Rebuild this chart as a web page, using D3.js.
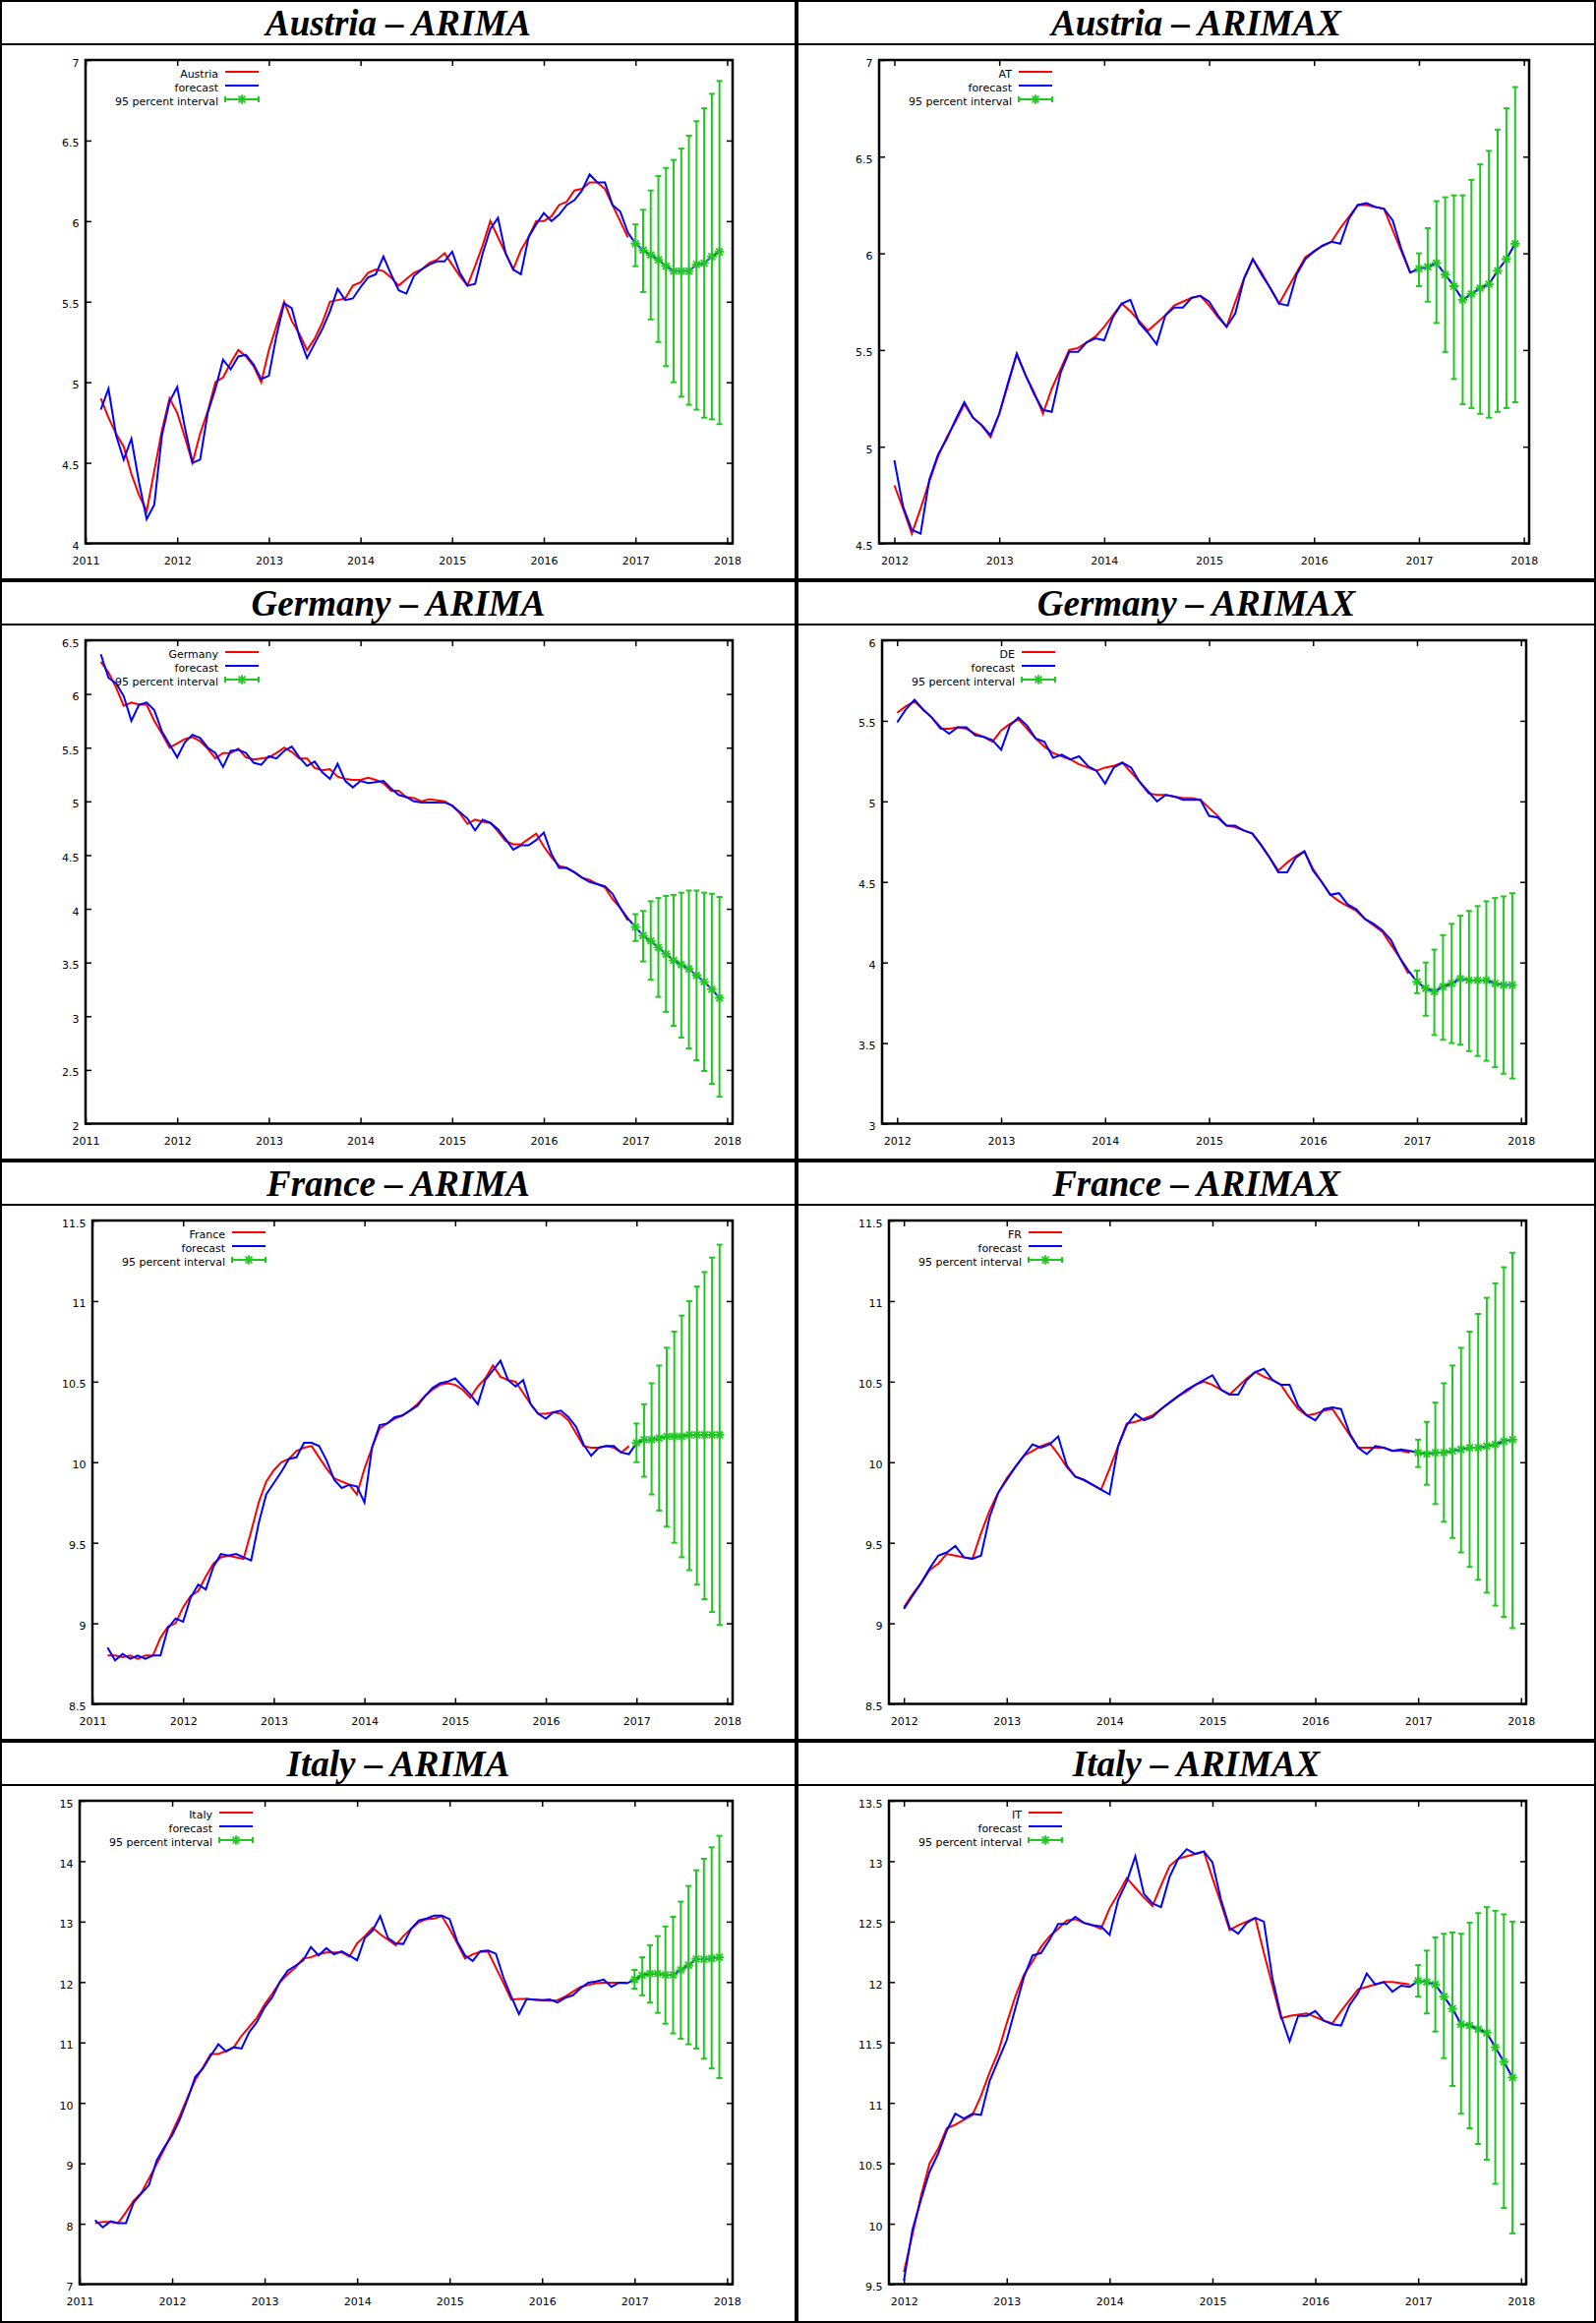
<!DOCTYPE html>
<html><head><meta charset="utf-8">
<script src="https://cdn.jsdelivr.net/npm/d3@7"></script>
<style>
body{margin:0;background:#fff}
.tk text,.lg text{font-family:"DejaVu Sans",sans-serif;font-size:11px;fill:#000}
.ttl{font-family:"Liberation Serif","Times New Roman",serif;font-weight:bold;font-style:italic;font-size:37px}
</style></head>
<body><svg id="c" width="1623" height="2362"></svg>
<script>
// ---------- DATA ----------
const panelTitles = ["Austria – ARIMA","Austria – ARIMAX","Germany – ARIMA","Germany – ARIMAX","France – ARIMA","France – ARIMAX","Italy – ARIMA","Italy – ARIMAX"];
const seriesNames = ["Austria","AT","Germany","DE","France","FR","Italy","IT"];
const forecastLabel = "forecast";
const intervalLabel = "95 percent interval";
const arimaStart = 2011 + 2/12;   // March 2011
const arimaxStart = 2012;         // January 2012
const forecastStart = 2017;       // January 2017
const xTicksArima = [2011,2012,2013,2014,2015,2016,2017,2018];
const xTicksArimax = [2012,2013,2014,2015,2016,2017,2018];
const yTicksAustriaArima = [4,4.5,5,5.5,6,6.5,7];
const yTicksAustriaArimax = [4.5,5,5.5,6,6.5,7];
const yTicksGermanyArima = [2,2.5,3,3.5,4,4.5,5,5.5,6,6.5];
const yTicksGermanyArimax = [3,3.5,4,4.5,5,5.5,6];
const yTicksFrance = [8.5,9,9.5,10,10.5,11,11.5];
const yTicksItalyArima = [7,8,9,10,11,12,13,14,15];
const yTicksItalyArimax = [9.5,10,10.5,11,11.5,12,12.5,13,13.5];

const austriaArimaActual = [4.90,4.78,4.68,4.60,4.43,4.30,4.20,4.45,4.70,4.90,
 4.81,4.66,4.50,4.68,4.82,5.00,5.03,5.12,5.20,5.16,5.10,5.00,
 5.20,5.35,5.50,5.38,5.30,5.20,5.27,5.37,5.50,5.51,5.52,5.60,
 5.62,5.68,5.70,5.69,5.65,5.60,5.64,5.68,5.70,5.74,5.76,5.80,
 5.73,5.66,5.60,5.72,5.85,6.00,5.90,5.80,5.70,5.82,5.90,6.00,
 6.00,6.03,6.10,6.12,6.19,6.20,6.24,6.24,6.20,6.10,6.00,5.90];
const austriaArimaForecast = [4.83,4.96,4.67,4.52,4.65,4.38,4.15,4.24,4.67,4.88,
 4.97,4.72,4.50,4.52,4.81,4.96,5.14,5.08,5.16,5.17,5.11,5.02,
 5.04,5.29,5.49,5.46,5.28,5.15,5.24,5.33,5.44,5.58,5.51,5.52,
 5.59,5.65,5.67,5.78,5.67,5.57,5.55,5.66,5.70,5.73,5.75,5.75,
 5.81,5.68,5.60,5.61,5.80,5.95,6.02,5.80,5.70,5.67,5.90,5.98,
 6.05,6.00,6.04,6.10,6.13,6.19,6.29,6.24,6.24,6.10,6.06,5.93,
 5.86,5.82,5.79,5.76,5.72,5.69,5.69,5.69,5.73,5.74,5.78,5.81];
const austriaArimaLower = [5.72,5.56,5.39,5.25,5.10,5.00,4.91,4.86,4.83,4.78,4.77,4.74];
const austriaArimaUpper = [5.98,6.07,6.19,6.28,6.33,6.38,6.45,6.53,6.62,6.70,6.79,6.87];

const austriaArimaxActual = [4.80,4.68,4.55,4.68,4.82,4.95,5.05,5.13,5.22,5.15,5.11,5.05,
 5.17,5.32,5.48,5.37,5.28,5.17,5.30,5.40,5.50,5.51,5.54,5.57,
 5.62,5.68,5.74,5.70,5.65,5.60,5.64,5.68,5.73,5.75,5.77,5.78,
 5.73,5.67,5.62,5.75,5.87,5.97,5.90,5.82,5.74,5.82,5.90,5.98,
 6.01,6.04,6.06,6.13,6.19,6.25,6.25,6.24,6.23,6.12,6.01,5.90];
const austriaArimaxForecast = [4.93,4.69,4.57,4.55,4.83,4.96,5.04,5.14,5.23,5.15,5.11,5.06,
 5.17,5.33,5.48,5.37,5.27,5.19,5.18,5.38,5.49,5.49,5.54,5.56,
 5.55,5.67,5.74,5.76,5.64,5.59,5.53,5.68,5.72,5.72,5.77,5.78,
 5.75,5.68,5.62,5.69,5.87,5.97,5.89,5.82,5.74,5.73,5.89,5.97,
 6.01,6.04,6.06,6.05,6.18,6.25,6.26,6.24,6.23,6.17,6.02,5.90,
 5.92,5.93,5.95,5.89,5.83,5.76,5.79,5.82,5.84,5.91,5.97,6.05];
const austriaArimaxLower = [5.83,5.75,5.64,5.49,5.35,5.22,5.20,5.17,5.15,5.18,5.20,5.23];
const austriaArimaxUpper = [6.00,6.13,6.27,6.29,6.30,6.30,6.38,6.46,6.53,6.64,6.75,6.86];

const germanyArimaActual = [6.30,6.20,6.06,5.89,5.92,5.90,5.90,5.75,5.63,5.50,
 5.54,5.58,5.60,5.56,5.49,5.40,5.45,5.45,5.49,5.41,5.39,5.40,
 5.41,5.45,5.50,5.46,5.40,5.40,5.31,5.29,5.30,5.23,5.21,5.20,
 5.20,5.22,5.20,5.17,5.10,5.10,5.04,5.03,5.00,5.02,5.01,5.00,
 4.96,4.89,4.79,4.83,4.81,4.80,4.72,4.63,4.60,4.60,4.65,4.70,
 4.58,4.48,4.40,4.38,4.34,4.29,4.27,4.23,4.20,4.09,4.01,3.89];
const germanyArimaForecast = [6.37,6.15,6.10,5.98,5.75,5.90,5.92,5.85,5.65,5.53,
 5.41,5.55,5.62,5.59,5.50,5.45,5.32,5.47,5.48,5.45,5.36,5.34,
 5.42,5.40,5.47,5.51,5.41,5.33,5.37,5.27,5.21,5.35,5.19,5.13,
 5.19,5.17,5.18,5.19,5.12,5.06,5.04,5.00,4.99,4.99,4.99,4.99,
 4.96,4.90,4.84,4.73,4.83,4.80,4.74,4.65,4.55,4.59,4.59,4.64,
 4.71,4.51,4.38,4.38,4.34,4.29,4.25,4.23,4.21,4.14,4.01,3.91,
 3.83,3.75,3.70,3.64,3.58,3.52,3.48,3.44,3.38,3.32,3.25,3.17];
const germanyArimaLower = [3.70,3.51,3.34,3.18,3.04,2.91,2.80,2.70,2.59,2.49,2.37,2.25];
const germanyArimaUpper = [3.95,3.98,4.07,4.10,4.12,4.13,4.15,4.17,4.17,4.15,4.14,4.11];

const germanyArimaxActual = [5.55,5.59,5.62,5.57,5.52,5.45,5.45,5.46,5.45,5.42,5.40,5.37,
 5.44,5.48,5.51,5.45,5.39,5.34,5.30,5.28,5.26,5.23,5.21,5.19,
 5.21,5.22,5.24,5.18,5.12,5.05,5.04,5.04,5.03,5.02,5.02,5.01,
 4.96,4.91,4.85,4.84,4.82,4.80,4.73,4.65,4.57,4.62,4.66,4.69,
 4.58,4.50,4.42,4.38,4.35,4.32,4.27,4.23,4.19,4.11,4.03,3.93];
const germanyArimaxForecast = [5.49,5.57,5.63,5.57,5.52,5.46,5.42,5.46,5.46,5.41,5.40,5.38,
 5.32,5.47,5.52,5.47,5.39,5.37,5.27,5.29,5.26,5.28,5.22,5.19,
 5.11,5.21,5.24,5.21,5.12,5.06,5.00,5.04,5.03,5.01,5.01,5.01,
 4.91,4.90,4.85,4.85,4.82,4.80,4.73,4.65,4.56,4.56,4.65,4.69,
 4.57,4.50,4.42,4.43,4.36,4.33,4.27,4.24,4.20,4.14,4.03,3.95,
 3.88,3.84,3.82,3.85,3.87,3.90,3.89,3.89,3.89,3.87,3.86,3.86];
const germanyArimaxLower = [3.81,3.67,3.55,3.52,3.50,3.49,3.45,3.42,3.39,3.35,3.31,3.28];
const germanyArimaxUpper = [3.95,4.00,4.08,4.17,4.24,4.29,4.32,4.35,4.38,4.40,4.41,4.43];

const franceArimaActual = [8.80,8.80,8.79,8.80,8.78,8.80,8.80,8.91,8.98,9.00,
 9.10,9.17,9.20,9.29,9.37,9.41,9.42,9.41,9.40,9.57,9.75,9.88,
 9.95,10.00,10.02,10.07,10.09,10.10,10.03,9.96,9.90,9.88,9.86,9.80,
 9.96,10.09,10.21,10.24,10.27,10.29,10.32,10.36,10.41,10.45,10.48,10.49,
 10.48,10.45,10.40,10.47,10.52,10.60,10.53,10.51,10.50,10.43,10.36,10.30,
 10.30,10.31,10.30,10.26,10.18,10.10,10.09,10.09,10.10,10.09,10.06,10.10];
const franceArimaForecast = [8.85,8.77,8.81,8.78,8.80,8.78,8.80,8.80,8.97,9.03,
 9.01,9.16,9.24,9.21,9.35,9.43,9.42,9.43,9.41,9.39,9.62,9.80,
 9.87,9.94,10.02,10.03,10.12,10.12,10.10,10.01,9.89,9.84,9.86,9.85,
 9.75,10.09,10.23,10.24,10.28,10.29,10.32,10.35,10.41,10.46,10.49,10.50,
 10.52,10.47,10.42,10.36,10.51,10.57,10.63,10.51,10.47,10.51,10.36,10.30,
 10.27,10.31,10.32,10.28,10.22,10.11,10.04,10.09,10.10,10.10,10.06,10.05,
 10.12,10.14,10.14,10.15,10.16,10.16,10.16,10.17,10.17,10.17,10.17,10.17];
const franceArimaLower = [10.00,9.91,9.80,9.70,9.60,9.50,9.41,9.33,9.24,9.15,9.07,8.99];
const franceArimaUpper = [10.24,10.36,10.49,10.60,10.71,10.81,10.91,11.00,11.09,11.18,11.27,11.35];

const franceArimaxActual = [9.10,9.18,9.25,9.33,9.37,9.43,9.42,9.41,9.40,9.56,9.70,9.81,
 9.90,9.97,10.04,10.07,10.10,10.12,10.05,9.97,9.91,9.89,9.86,9.83,
 9.96,10.10,10.24,10.25,10.27,10.29,10.33,10.37,10.41,10.44,10.48,10.50,
 10.48,10.45,10.42,10.47,10.52,10.56,10.53,10.51,10.48,10.40,10.33,10.29,
 10.30,10.32,10.33,10.25,10.17,10.09,10.09,10.09,10.09,10.07,10.07,10.06];
const franceArimaxForecast = [9.09,9.17,9.25,9.34,9.42,9.44,9.48,9.41,9.40,9.42,9.66,9.81,
 9.89,9.97,10.04,10.11,10.09,10.11,10.16,9.98,9.91,9.89,9.86,9.83,
 9.80,10.10,10.23,10.30,10.26,10.28,10.33,10.37,10.41,10.45,10.48,10.51,
 10.54,10.45,10.42,10.42,10.51,10.56,10.58,10.51,10.48,10.48,10.35,10.29,
 10.26,10.33,10.34,10.33,10.18,10.09,10.05,10.10,10.09,10.07,10.08,10.07,
 10.06,10.05,10.06,10.06,10.07,10.08,10.09,10.09,10.10,10.11,10.13,10.14];
const franceArimaxLower = [9.97,9.86,9.74,9.63,9.53,9.44,9.35,9.27,9.19,9.11,9.04,8.97];
const franceArimaxUpper = [10.14,10.25,10.37,10.49,10.60,10.71,10.81,10.92,11.02,11.11,11.21,11.30];

const italyArimaActual = [8.01,8.03,8.03,8.01,8.19,8.38,8.51,8.75,8.99,9.24,
 9.51,9.79,10.09,10.38,10.59,10.81,10.81,10.86,10.92,11.11,11.26,11.41,
 11.63,11.81,12.00,12.13,12.24,12.39,12.41,12.46,12.49,12.49,12.49,12.42,
 12.64,12.76,12.90,12.79,12.70,12.61,12.76,12.88,12.99,13.04,13.05,13.09,
 12.88,12.64,12.39,12.46,12.50,12.50,12.24,11.98,11.71,11.72,11.72,11.71,
 11.70,11.69,11.70,11.76,11.84,11.92,11.95,11.98,11.99,11.99,11.99,11.99];
const italyArimaForecast = [8.06,7.94,8.04,8.01,8.01,8.35,8.50,8.64,9.05,9.27,
 9.46,9.73,10.06,10.43,10.57,10.78,10.97,10.85,10.92,10.90,11.17,11.34,
 11.58,11.75,12.01,12.19,12.27,12.36,12.58,12.44,12.56,12.46,12.51,12.44,
 12.36,12.73,12.85,13.09,12.73,12.64,12.63,12.88,13.02,13.05,13.10,13.10,
 13.04,12.67,12.44,12.35,12.51,12.52,12.47,12.07,11.76,11.47,11.72,11.71,
 11.70,11.71,11.66,11.74,11.78,11.90,11.99,12.01,12.04,11.92,11.99,11.98,
 12.04,12.11,12.14,12.14,12.12,12.12,12.20,12.28,12.38,12.38,12.39,12.41];
const italyArimaLower = [11.89,11.78,11.66,11.49,11.31,11.15,11.06,10.97,10.90,10.73,10.57,10.41];
const italyArimaUpper = [12.20,12.41,12.61,12.76,12.92,13.08,13.33,13.59,13.85,14.04,14.23,14.42];

const italyArimaxActual = [9.60,9.91,10.23,10.50,10.62,10.79,10.82,10.86,10.90,11.06,11.25,11.42,
 11.66,11.88,12.06,12.17,12.29,12.38,12.44,12.51,12.52,12.49,12.47,12.44,
 12.61,12.73,12.86,12.78,12.70,12.63,12.80,12.96,13.02,13.04,13.06,13.08,
 12.86,12.65,12.43,12.47,12.50,12.53,12.24,11.97,11.70,11.72,11.73,11.74,
 11.71,11.68,11.66,11.76,11.85,11.94,11.96,11.98,12.00,12.00,11.99,11.98];
const italyArimaxForecast = [9.53,9.95,10.20,10.43,10.58,10.77,10.91,10.87,10.91,10.90,11.18,11.35,
 11.52,11.78,12.04,12.22,12.24,12.35,12.48,12.48,12.54,12.49,12.47,12.46,
 12.39,12.68,12.83,13.04,12.73,12.65,12.62,12.87,13.02,13.10,13.06,13.08,
 12.99,12.68,12.45,12.40,12.49,12.53,12.50,12.03,11.72,11.51,11.72,11.72,
 11.76,11.68,11.65,11.64,11.81,11.91,12.07,11.98,12.00,11.92,11.97,11.96,
 12.01,12.00,11.98,11.88,11.78,11.65,11.64,11.61,11.58,11.46,11.34,11.21];
const italyArimaxLower = [11.88,11.74,11.59,11.37,11.14,10.91,10.79,10.66,10.53,10.33,10.13,9.92];
const italyArimaxUpper = [12.14,12.26,12.37,12.40,12.41,12.40,12.49,12.57,12.62,12.59,12.56,12.50];

// ---------- PANEL TABLE (built from the arrays above) ----------
const actuals = [austriaArimaActual,austriaArimaxActual,germanyArimaActual,germanyArimaxActual,franceArimaActual,franceArimaxActual,italyArimaActual,italyArimaxActual];
const forecasts = [austriaArimaForecast,austriaArimaxForecast,germanyArimaForecast,germanyArimaxForecast,franceArimaForecast,franceArimaxForecast,italyArimaForecast,italyArimaxForecast];
const lowers = [austriaArimaLower,austriaArimaxLower,germanyArimaLower,germanyArimaxLower,franceArimaLower,franceArimaxLower,italyArimaLower,italyArimaxLower];
const uppers = [austriaArimaUpper,austriaArimaxUpper,germanyArimaUpper,germanyArimaxUpper,franceArimaUpper,franceArimaxUpper,italyArimaUpper,italyArimaxUpper];
const yTicksAll = [yTicksAustriaArima,yTicksAustriaArimax,yTicksGermanyArima,yTicksGermanyArimax,yTicksFrance,yTicksFrance,yTicksItalyArima,yTicksItalyArimax];

// ---------- LAYOUT ----------
const colX=[0,810], colW=[810,813];
const rowY=[0,590,1180,1770], rowH=[590,590,590,592];
const plotL=[87,84,87,87,94,94,81,94];
const plotR=[745,745,745,742,745,742,745,742];
const plotT=61, plotB=552.5;
const RED="#ff0000", BLUE="#0000ff", GREEN="#22c822";

const svg=d3.select("#c");
svg.append("rect").attr("width",1623).attr("height",2362).attr("fill","#fff");

function starPath(r){const a=r*0.7071;return `M${-r},0L${r},0M0,${-r}L0,${r}M${-a},${-a}L${a},${a}M${-a},${a}L${a},${-a}`;}
const fmt=d3.format("~g");

panelTitles.forEach((title,k)=>{
  const col=k%2,row=Math.floor(k/2);
  const arima = col===0;
  const g=svg.append("g").attr("transform",`translate(${colX[col]},${rowY[row]})`);
  const cw=colW[col], ch=rowH[row];
  g.append("rect").attr("x",1).attr("y",1).attr("width",cw-2).attr("height",ch-2)
    .attr("fill","none").attr("stroke","#000").attr("stroke-width",2);
  g.append("line").attr("x1",0).attr("x2",cw).attr("y1",45).attr("y2",45).attr("stroke","#000").attr("stroke-width",2);
  g.append("text").attr("class","ttl").attr("x",cw/2).attr("y",36).attr("text-anchor","middle").text(title);

  const L=plotL[k], R=plotR[k];
  const yt=yTicksAll[k];
  const x=d3.scaleLinear().domain(arima?[2011,2018.06]:[2011.855,2018.05]).range([L,R]);
  const y=d3.scaleLinear().domain([yt[0],yt[yt.length-1]]).range([plotB,plotT]);
  const start = arima?arimaStart:arimaxStart;
  const xt = arima?xTicksArima:xTicksArimax;

  // axes (inward ticks, mirrored)
  const ax=(sel)=>{sel.select(".domain").remove();sel.selectAll("line").attr("stroke","#000").attr("stroke-width",1.5);sel.attr("font-family",null).attr("font-size",null);};
  const left=g.append("g").attr("class","tk").attr("transform",`translate(${L},0)`)
    .call(d3.axisLeft(y).tickValues(yt).tickFormat(fmt).tickSizeInner(-6).tickSizeOuter(0).tickPadding(6.5)).call(ax);
  left.selectAll("text").attr("dy","0.55em");
  g.append("g").attr("class","tk").attr("transform",`translate(${R},0)`)
    .call(d3.axisRight(y).tickValues(yt).tickFormat("").tickSizeInner(-6).tickSizeOuter(0)).call(ax);
  g.append("g").attr("class","tk").attr("transform",`translate(0,${plotB})`)
    .call(d3.axisBottom(x).tickValues(xt).tickFormat(d3.format("d")).tickSizeInner(-6).tickSizeOuter(0).tickPadding(13.5)).call(ax);
  g.append("g").attr("class","tk").attr("transform",`translate(0,${plotT})`)
    .call(d3.axisTop(x).tickValues(xt).tickFormat("").tickSizeInner(-6).tickSizeOuter(0)).call(ax);

  const line=d3.line().x((d,i)=>x(start+i/12)).y(d=>y(d));
  g.append("path").attr("d",line(actuals[k])).attr("fill","none").attr("stroke",RED).attr("stroke-width",2);
  g.append("path").attr("d",line(forecasts[k])).attr("fill","none").attr("stroke",BLUE).attr("stroke-width",2);

  const fc=forecasts[k].slice(forecasts[k].length-12);
  const eb=g.append("g").attr("stroke",GREEN).attr("stroke-width",2).attr("fill","none");
  lowers[k].forEach((lo,i)=>{
    const xx=x(forecastStart+i/12), hi=uppers[k][i];
    eb.append("line").attr("x1",xx).attr("x2",xx).attr("y1",y(lo)).attr("y2",y(hi));
    eb.append("line").attr("x1",xx-3).attr("x2",xx+3).attr("y1",y(lo)).attr("y2",y(lo));
    eb.append("line").attr("x1",xx-3).attr("x2",xx+3).attr("y1",y(hi)).attr("y2",y(hi));
    eb.append("path").attr("d",starPath(4.8)).attr("stroke-width",1.8).attr("transform",`translate(${xx},${y(fc[i])})`);
  });

  // frame
  g.append("rect").attr("x",L).attr("y",plotT).attr("width",R-L).attr("height",plotB-plotT)
    .attr("fill","none").attr("stroke","#000").attr("stroke-width",2.5);

  // legend
  const lg=g.append("g").attr("class","lg");
  const tx=L+135, s0=L+142, s1=L+176;
  const labels=[seriesNames[k],forecastLabel,intervalLabel];
  const base=[plotT+18,plotT+32,plotT+46];
  labels.forEach((t,i)=>{
    lg.append("text").attr("x",tx).attr("y",base[i]).attr("text-anchor","end").text(t);
  });
  lg.append("line").attr("x1",s0).attr("x2",s1).attr("y1",base[0]-6).attr("y2",base[0]-6).attr("stroke",RED).attr("stroke-width",2);
  lg.append("line").attr("x1",s0).attr("x2",s1).attr("y1",base[1]-6).attr("y2",base[1]-6).attr("stroke",BLUE).attr("stroke-width",2);
  const gy=base[2]-6;
  const gl=lg.append("g").attr("stroke",GREEN).attr("stroke-width",2).attr("fill","none");
  gl.append("line").attr("x1",s0).attr("x2",s1).attr("y1",gy).attr("y2",gy);
  gl.append("line").attr("x1",s0).attr("x2",s0).attr("y1",gy-3).attr("y2",gy+3);
  gl.append("line").attr("x1",s1).attr("x2",s1).attr("y1",gy-3).attr("y2",gy+3);
  gl.append("path").attr("d",starPath(4.8)).attr("stroke-width",1.8).attr("transform",`translate(${(s0+s1)/2},${gy})`);
});
</script>
</body></html>
